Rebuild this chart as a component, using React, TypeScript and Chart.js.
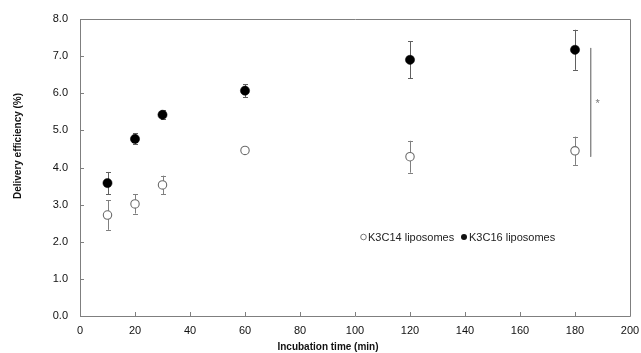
import React, { useEffect, useRef } from "react";
import { Chart, registerables } from "chart.js";

Chart.register(...registerables);

const times = [10, 20, 30, 60, 120, 180];
const k3c14Mean = [2.72, 3.02, 3.53, 4.46, 4.29, 4.45];
const k3c14Err = [0.4, 0.26, 0.25, 0.05, 0.43, 0.38];
const k3c16Mean = [3.58, 4.77, 5.42, 6.07, 6.9, 7.17];
const k3c16Err = [0.3, 0.15, 0.12, 0.17, 0.5, 0.54];
const sigX = 185.7;
const sigTop = 7.22;
const sigBottom = 4.29;
const sigLabel = "*";
const yTicks = [0, 1, 2, 3, 4, 5, 6, 7, 8];
const xTicks = [0, 20, 40, 60, 80, 100, 120, 140, 160, 180, 200];
const legendLabels = ["K3C14 liposomes", "K3C16 liposomes"];
const xTitle = "Incubation time (min)";
const yTitle = "Delivery efficiency (%)";

const FONT = "'Liberation Sans', Arial, sans-serif";

const customPlugin = {
  id: "custom",
  beforeDatasetsDraw(chart: any) {
    const ctx = chart.ctx;
    const xs = chart.scales.x;
    const ys = chart.scales.y;
    const a = chart.chartArea;
    ctx.save();
    ctx.strokeStyle = "#7f7f7f";
    ctx.lineWidth = 1;
    ctx.beginPath();
    ctx.rect(Math.round(a.left) + 0.5, Math.round(a.top) + 0.5, Math.round(a.right - a.left), Math.round(a.bottom - a.top));
    ctx.stroke();
    ctx.beginPath();
    yTicks.forEach((v) => {
      const py = Math.round(ys.getPixelForValue(v)) + 0.5;
      ctx.moveTo(a.left, py);
      ctx.lineTo(a.left + 4, py);
    });
    xTicks.forEach((v) => {
      const px = Math.round(xs.getPixelForValue(v)) + 0.5;
      ctx.moveTo(px, a.bottom);
      ctx.lineTo(px, a.bottom - 4);
    });
    ctx.stroke();
    const drawErr = (means: number[], errs: number[], color: string) => {
      ctx.strokeStyle = color;
      ctx.lineWidth = 1;
      ctx.beginPath();
      times.forEach((t, i) => {
        const px = Math.round(xs.getPixelForValue(t)) + 0.5;
        const top = ys.getPixelForValue(means[i] + errs[i]);
        const bot = ys.getPixelForValue(means[i] - errs[i]);
        ctx.moveTo(px, top);
        ctx.lineTo(px, bot);
        ctx.moveTo(px - 2.5, Math.round(top) + 0.5);
        ctx.lineTo(px + 2.5, Math.round(top) + 0.5);
        ctx.moveTo(px - 2.5, Math.round(bot) + 0.5);
        ctx.lineTo(px + 2.5, Math.round(bot) + 0.5);
      });
      ctx.stroke();
    };
    drawErr(k3c14Mean, k3c14Err, "#808080");
    drawErr(k3c16Mean, k3c16Err, "#606060");
    ctx.restore();
  },
  afterDraw(chart: any) {
    const ctx = chart.ctx;
    const xs = chart.scales.x;
    const ys = chart.scales.y;
    ctx.save();
    ctx.fillStyle = "#111";
    ctx.font = "bold 10px " + FONT;
    ctx.textAlign = "center";
    ctx.textBaseline = "middle";
    ctx.fillText(xTitle, 328, 347);
    ctx.save();
    ctx.translate(18, 146);
    ctx.rotate(-Math.PI / 2);
    ctx.fillText(yTitle, 0, 0);
    ctx.restore();
    ctx.fillStyle = "#777";
    ctx.font = "11px " + FONT;
    ctx.fillText(sigLabel, xs.getPixelForValue(sigX) + 7, ys.getPixelForValue(5.8) + 3);
    ctx.font = "11px " + FONT;
    ctx.textAlign = "left";
    ctx.fillStyle = "#222";
    const ly = 237;
    ctx.beginPath();
    ctx.arc(363.5, ly, 2.8, 0, Math.PI * 2);
    ctx.strokeStyle = "#555";
    ctx.lineWidth = 0.8;
    ctx.stroke();
    ctx.fillText(legendLabels[0], 368, ly + 0.5);
    ctx.beginPath();
    ctx.arc(464, ly, 3, 0, Math.PI * 2);
    ctx.fillStyle = "#111";
    ctx.fill();
    ctx.fillStyle = "#222";
    ctx.fillText(legendLabels[1], 469, ly + 0.5);
    ctx.restore();
  },
};

export default function App() {
  const ref = useRef<HTMLCanvasElement>(null);
  useEffect(() => {
    if (!ref.current) return;
    const chart = new Chart(ref.current, {
      type: "scatter",
      data: {
        datasets: [
          {
            type: "line",
            label: "sig",
            data: [
              { x: sigX, y: sigTop },
              { x: sigX, y: sigBottom },
            ],
            borderColor: "#8a8a8a",
            borderWidth: 1,
            pointRadius: 0,
            fill: false,
          } as any,
          {
            label: legendLabels[0],
            data: times.map((t, i) => ({ x: t, y: k3c14Mean[i] })),
            pointRadius: 4.2,
            pointBackgroundColor: "#ffffff",
            pointBorderColor: "#6a6a6a",
            pointBorderWidth: 1.1,
          },
          {
            label: legendLabels[1],
            data: times.map((t, i) => ({ x: t, y: k3c16Mean[i] })),
            pointRadius: 4.6,
            pointBackgroundColor: "#000000",
            pointBorderColor: "#000000",
            pointBorderWidth: 0.5,
          },
        ],
      },
      options: {
        animation: false,
        responsive: false,
        maintainAspectRatio: false,
        layout: { padding: { left: 0, right: 0, top: 19, bottom: 0 } },
        plugins: { legend: { display: false }, tooltip: { enabled: false } },
        scales: {
          x: {
            type: "linear",
            min: 0,
            max: 200,
            afterBuildTicks: (s: any) => {
              s.ticks = xTicks.map((v) => ({ value: v }));
            },
            afterFit: (s: any) => {
              s.height = 37;
              s.paddingRight = 11;
              s.paddingLeft = 0;
            },
            grid: { display: false, drawTicks: false },
            border: { display: false },
            ticks: {
              padding: 8,
              color: "#111",
              font: { family: FONT, size: 11 },
              callback: (v: any) => String(v),
            },
          },
          y: {
            type: "linear",
            min: 0,
            max: 8,
            afterBuildTicks: (s: any) => {
              s.ticks = yTicks.map((v) => ({ value: v }));
            },
            afterFit: (s: any) => {
              s.width = 80;
              s.paddingTop = 0;
              s.paddingBottom = 0;
            },
            grid: { display: false, drawTicks: false },
            border: { display: false },
            ticks: {
              padding: 12,
              color: "#111",
              font: { family: FONT, size: 11 },
              callback: (v: any) => Number(v).toFixed(1),
            },
          },
        },
      },
      plugins: [customPlugin],
    } as any);
    return () => chart.destroy();
  }, []);
  return (
    <div style={{ position: "fixed", left: 0, top: 0, width: 641, height: 353, background: "#fff" }}>
      <canvas ref={ref} width={641} height={353} style={{ width: 641, height: 353 }} />
    </div>
  );
}
